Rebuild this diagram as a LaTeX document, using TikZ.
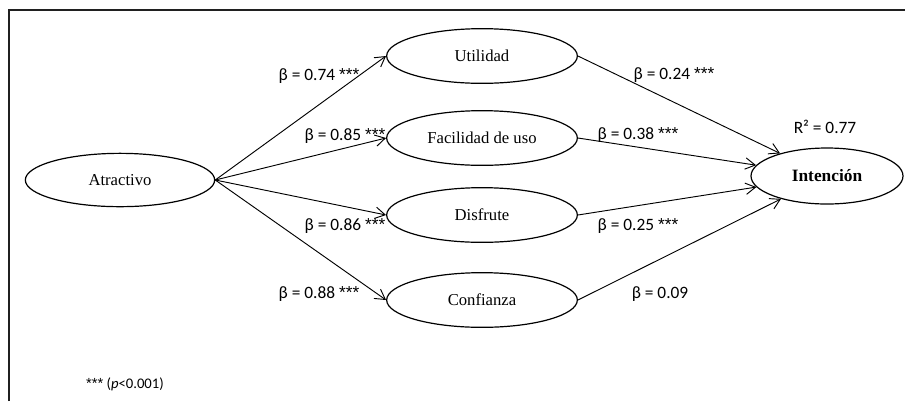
\documentclass[tikz,border=0pt]{standalone}
\usepackage{fontspec}
\setmainfont{Liberation Serif}
\newfontfamily\coeffont{Carlito}
\newfontfamily\starfont{Liberation Sans}
\newcommand{\sigstars}{{\starfont ***}}
\usepackage{xcolor}
\usepackage{tikz}
\usetikzlibrary{positioning, arrows.meta, shapes.geometric}

\begin{document}
\begin{tikzpicture}[
      x=0.75pt, y=-0.75pt,
      var/.style={draw, ellipse, line width=0.9pt, inner sep=0pt, minimum width=143pt, minimum height=41pt, font=\fontsize{12.5}{14}\selectfont},
      coef/.style={inner sep=0pt, font=\coeffont\fontsize{13}{15}\selectfont},
      arr/.style={line width=0.7pt, -{Straight Barb[length=2.6mm, width=3mm, line width=0.7pt]}}
    ]
    \useasboundingbox (0,0) rectangle (905,401);
    \draw[line width=2.2pt, gray!25!black] (9,401) -- (9,10) -- (905,10);

    \node[var, minimum width=142pt, minimum height=40pt] (atr) at (120,180) {Atractivo};
    \node[var] (util) at (482,56) {Utilidad};
    \node[var] (fac) at (482,138) {Facilidad de uso};
    \node[var] (dis) at (482,215) {Disfrute};
    \node[var] (conf) at (482,300) {Confianza};
    \node[var, minimum width=114pt, minimum height=42pt, font=\fontsize{13}{15}\selectfont\bfseries] (int) at (827,176) {Intención};

    \draw[arr] (atr.east) -- (util.west);
    \draw[arr] (atr.east) -- (fac.west);
    \draw[arr] (atr.east) -- (dis.west);
    \draw[arr] (atr.east) -- (conf.west);
    \draw[arr] (util.east) -- (int);
    \draw[arr] (fac.east) -- (int);
    \draw[arr] (dis.east) -- (int);
    \draw[arr] (conf.east) -- (int);

    \node[coef] (c1) at (319,76) {β = 0.74 \sigstars};
    \node[coef] (c2) at (345,136) {β = 0.85 \sigstars};
    \node[coef] (c3) at (345,226) {β = 0.86 \sigstars};
    \node[coef] (c4) at (319,294) {β = 0.88 \sigstars};
    \node[coef] (d1) at (674,75) {β = 0.24 \sigstars};
    \node[coef] (d2) at (638,135) {β = 0.38 \sigstars};
    \node[coef] (d3) at (638,226) {β = 0.25 \sigstars};
    \node[coef] (d4) at (660,294) {β = 0.09};
    \node[coef] (rsq) at (825,127) {R² = 0.77};
    \node[coef, font=\coeffont\fontsize{11}{13}\selectfont] (note) at (125,384) {\sigstars{} (\textit{p}<0.001)};
  \end{tikzpicture}
\end{document}
